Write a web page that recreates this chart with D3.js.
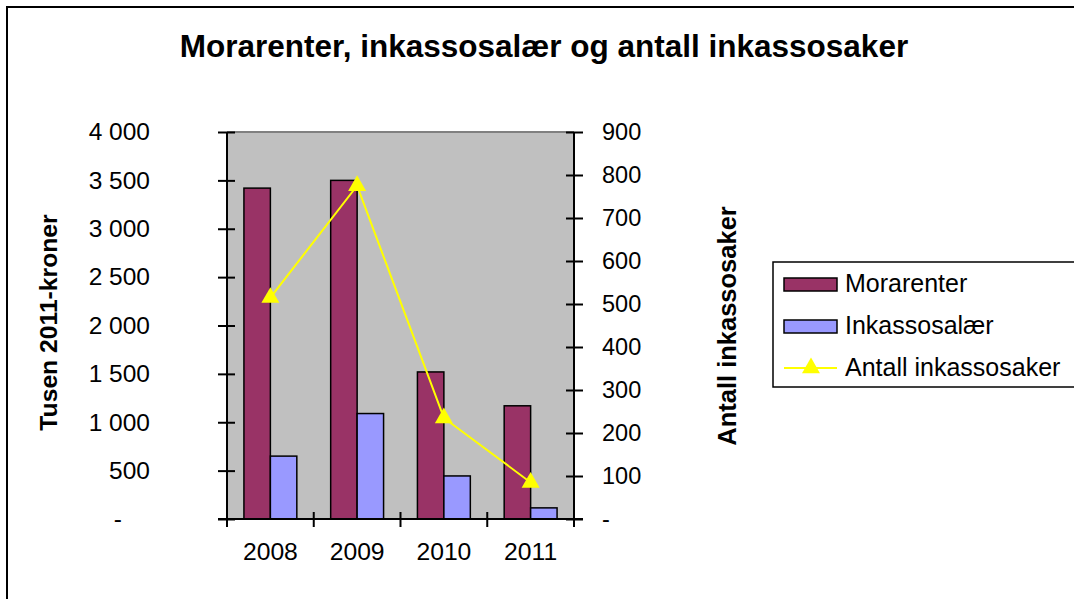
<!DOCTYPE html>
<html lang="no">
<head>
  <meta charset="UTF-8">
  <title>Morarenter, inkassosalær og antall inkassosaker</title>
  <style>
    html, body {
      margin: 0;
      padding: 0;
      background: #fff;
      overflow: hidden;
      width: 100%;
      height: 100%;
    }
    svg {
      display: block;
      font-family: "Liberation Sans", Arial, sans-serif;
    }
  </style>
</head>
<body>
  <svg width="1074" height="599"></svg>
</body>
<script src="https://d3js.org/d3.v7.min.js"></script>
<script type="text/javascript">
  // data
  const years = ['2008', '2009', '2010', '2011']
  const morarenter = [3420, 3500, 1520, 1170]
  const inkassosalaer = [650, 1090, 445, 115]
  const antallSaker = [515, 775, 235, 85]
  const leftTicks = [0, 500, 1000, 1500, 2000, 2500, 3000, 3500, 4000]
  const rightTicks = [0, 100, 200, 300, 400, 500, 600, 700, 800, 900]

  const svg = d3.select('svg')

  // outer chart frame
  svg.append('rect')
    .attr('x', 7).attr('y', 7)
    .attr('width', 1080).attr('height', 610)
    .attr('fill', 'none')
    .attr('stroke', '#000')
    .attr('stroke-width', 2)

  const plot = { left: 227, right: 574, top: 132, bottom: 519 }

  const x = d3.scaleBand()
    .domain(years)
    .range([plot.left, plot.right])

  const xInner = d3.scaleBand()
    .domain(['morarenter', 'inkasso'])
    .range([0, x.bandwidth()])
    .paddingInner(0)
    .paddingOuter(0.64)

  const yLeft = d3.scaleLinear().domain([0, 4000]).range([plot.bottom, plot.top])
  const yRight = d3.scaleLinear().domain([0, 900]).range([plot.bottom, plot.top])

  // plot background
  svg.append('rect')
    .attr('x', plot.left).attr('y', plot.top)
    .attr('width', plot.right - plot.left)
    .attr('height', plot.bottom - plot.top)
    .attr('fill', '#c0c0c0')
  svg.append('line')
    .attr('x1', plot.left).attr('x2', plot.right)
    .attr('y1', plot.top).attr('y2', plot.top)
    .attr('stroke', '#808080')
    .attr('stroke-width', 2)

  // bars
  const series = [
    { key: 'morarenter', values: morarenter, color: '#993366' },
    { key: 'inkasso', values: inkassosalaer, color: '#9999ff' }
  ]
  series.forEach(s => {
    svg.append('g').selectAll('rect')
      .data(years)
      .enter()
      .append('rect')
      .attr('x', d => x(d) + xInner(s.key))
      .attr('y', (d, i) => yLeft(s.values[i]))
      .attr('width', xInner.bandwidth())
      .attr('height', (d, i) => plot.bottom - yLeft(s.values[i]))
      .attr('fill', s.color)
      .attr('stroke', '#000')
      .attr('stroke-width', 1.5)
  })

  // line + triangle markers
  const line = d3.line()
    .x((d, i) => x(years[i]) + x.bandwidth() / 2)
    .y(d => yRight(d))

  svg.append('path')
    .datum(antallSaker)
    .attr('d', line)
    .attr('fill', 'none')
    .attr('stroke', '#ffff00')
    .attr('stroke-width', 2)

  const tri = d3.symbol().type(d3.symbolTriangle).size(140)
  svg.append('g').selectAll('path')
    .data(antallSaker)
    .enter()
    .append('path')
    .attr('d', tri)
    .attr('transform', (d, i) => 'translate(' + (x(years[i]) + x.bandwidth() / 2) + ',' + yRight(d) + ')')
    .attr('fill', '#ffff00')

  const fmt = d => d === 0 ? '-' : d3.format(',')(d).replace(/,/g, ' ')

  // left axis
  const gL = svg.append('g')
    .attr('transform', 'translate(' + plot.left + ',0)')
    .call(d3.axisLeft(yLeft).tickValues(leftTicks).tickFormat(fmt).tickSize(8).tickPadding(69))
  gL.select('.domain').attr('stroke-width', 2).attr('d', 'M0,' + plot.top + 'V' + plot.bottom)
  gL.selectAll('.tick line').attr('x1', 8).attr('x2', -9).attr('stroke-width', 2)
  gL.selectAll('.tick text')
    .attr('font-size', 24.5)
    .attr('fill', '#000')
    .attr('dx', d => d === 0 ? -28 : 0)

  // right axis
  const gR = svg.append('g')
    .attr('transform', 'translate(' + plot.right + ',0)')
    .call(d3.axisRight(yRight).tickValues(rightTicks).tickFormat(fmt).tickSize(9).tickPadding(19))
  gR.select('.domain').attr('stroke-width', 2).attr('d', 'M0,' + plot.top + 'V' + plot.bottom)
  gR.selectAll('.tick line').attr('x1', -8).attr('x2', 9).attr('stroke-width', 2)
  gR.selectAll('.tick text').attr('font-size', 23.5).attr('fill', '#000')

  // bottom axis
  const gB = svg.append('g')
    .attr('transform', 'translate(0,' + plot.bottom + ')')
    .call(d3.axisBottom(x).tickSize(0).tickPadding(23))
  gB.select('.domain').attr('stroke-width', 2).attr('d', 'M' + (plot.left - 9) + ',0H' + (plot.right + 9))
  gB.selectAll('.tick text').attr('font-size', 24.7).attr('fill', '#000')
  gB.append('g').selectAll('line')
    .data(years.concat(['end']))
    .enter()
    .append('line')
    .attr('x1', d => d === 'end' ? plot.right : x(d))
    .attr('x2', d => d === 'end' ? plot.right : x(d))
    .attr('y1', -7).attr('y2', 8)
    .attr('stroke', '#000')
    .attr('stroke-width', 2)

  // titles
  svg.append('text')
    .attr('x', 544).attr('y', 57)
    .attr('text-anchor', 'middle')
    .attr('font-size', 31.5)
    .attr('font-weight', 'bold')
    .text('Morarenter, inkassosalær og antall inkassosaker')

  svg.append('text')
    .attr('transform', 'translate(57,322.5) rotate(-90)')
    .attr('text-anchor', 'middle')
    .attr('font-size', 24.7)
    .attr('font-weight', 'bold')
    .text('Tusen 2011-kroner')

  svg.append('text')
    .attr('transform', 'translate(736,326) rotate(-90)')
    .attr('text-anchor', 'middle')
    .attr('font-size', 25.5)
    .attr('font-weight', 'bold')
    .text('Antall inkassosaker')

  // legend
  const legend = svg.append('g').attr('transform', 'translate(773,262)')
  legend.append('rect')
    .attr('width', 320).attr('height', 125)
    .attr('fill', '#fff')
    .attr('stroke', '#000')
    .attr('stroke-width', 1.5)

  const legendItems = [
    { label: 'Morarenter', color: '#993366', type: 'bar' },
    { label: 'Inkassosalær', color: '#9999ff', type: 'bar' },
    { label: 'Antall inkassosaker', color: '#ffff00', type: 'line' }
  ]
  const item = legend.selectAll('g.item')
    .data(legendItems)
    .enter()
    .append('g')
    .attr('class', 'item')
    .attr('transform', (d, i) => 'translate(0,' + (22 + i * 42) + ')')

  item.filter(d => d.type === 'bar').append('rect')
    .attr('x', 11).attr('y', -6)
    .attr('width', 53).attr('height', 13)
    .attr('fill', d => d.color)
    .attr('stroke', '#000')
    .attr('stroke-width', 1.5)

  item.filter(d => d.type === 'line').append('line')
    .attr('x1', 11).attr('x2', 64)
    .attr('y1', 0).attr('y2', 0)
    .attr('stroke', d => d.color)
    .attr('stroke-width', 2)
  item.filter(d => d.type === 'line').append('path')
    .attr('d', tri)
    .attr('transform', 'translate(38,0)')
    .attr('fill', d => d.color)

  item.append('text')
    .attr('x', 72).attr('y', 8)
    .attr('font-size', 25)
    .text(d => d.label)
</script>
</html>
